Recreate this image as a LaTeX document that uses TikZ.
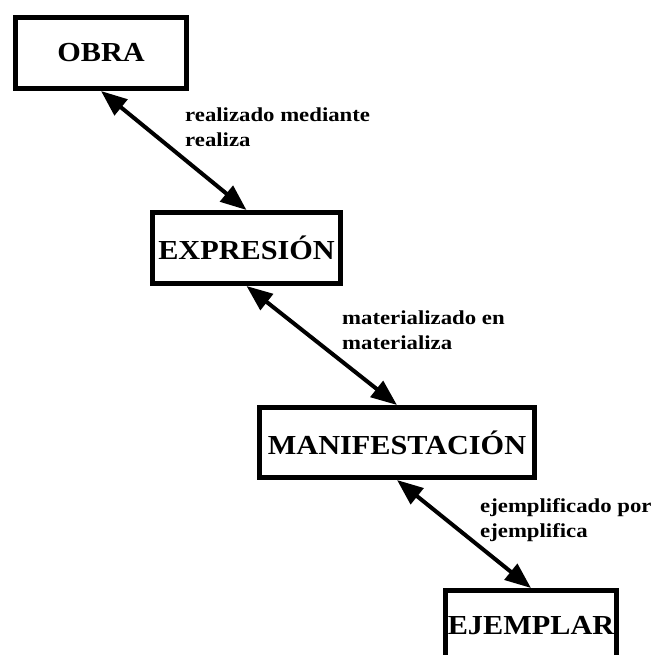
\documentclass[tikz,border=0pt]{standalone}
\usepackage{fontspec}
\setmainfont[FakeStretch=1.1]{Liberation Serif}
\newfontfamily\labfont[FakeStretch=1.15]{Liberation Serif}
\usetikzlibrary{arrows.meta}
\begin{document}
\begin{tikzpicture}[x=1pt,y=-1pt,
  entity/.style={draw, line width=5pt, inner sep=0pt, font=\fontsize{27.5}{30}\selectfont\bfseries},
  rel/.style={line width=4pt, {Triangle[length=26pt,width=20pt]}-{Triangle[length=26pt,width=20pt]}},
  lab/.style={anchor=north west, inner sep=0pt, align=left, font=\labfont\fontsize{19.8}{25}\selectfont\bfseries}]
\useasboundingbox (0,0) rectangle (656,654);
\clip (0,0) rectangle (656,654);
\node[entity, minimum width=171pt, minimum height=71pt] (obra) at (101,53) {OBRA};
\node[entity, minimum width=188pt, minimum height=71pt] (expr) at (246.5,248) {EXPRESIÓN};
\node[entity, minimum width=275pt, minimum height=70pt] (manif) at (397,442.5) {MANIFESTACIÓN};
\node[entity, minimum width=171pt, minimum height=71pt] (ejem) at (531,626) {EJEMPLAR};
\draw[rel] (obra.south) -- (expr.north);
\draw[rel] (expr.south) -- (manif.north);
\draw[rel] (manif.south) -- (ejem.north);
\node[lab] (l1) at (185,108) {realizado mediante\\realiza};
\node[lab] (l2) at (342,311) {materializado en\\materializa};
\node[lab] (l3) at (480,498) {ejemplificado por\\ejemplifica};
\end{tikzpicture}
\end{document}
